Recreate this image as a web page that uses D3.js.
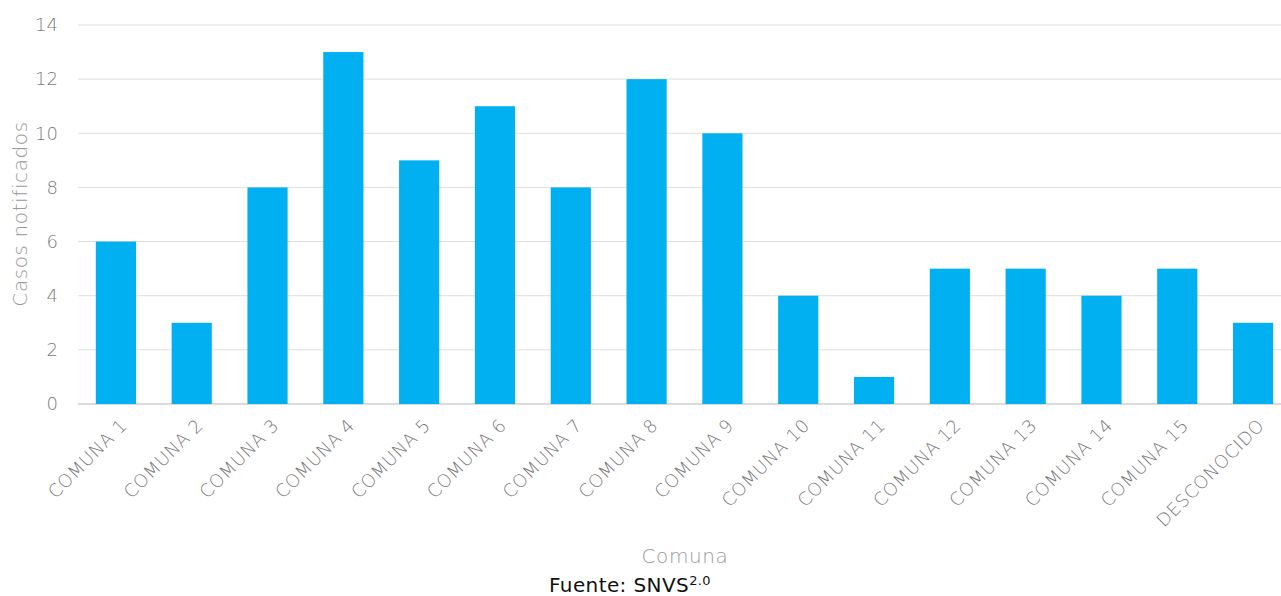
<!DOCTYPE html>
<html>
<head>
<meta charset="utf-8">
<script src="https://cdn.jsdelivr.net/npm/d3@7"></script>
<style>
  body { margin: 0; background: #fff; }
  text { font-family: "DejaVu Sans", sans-serif; }
</style>
</head>
<body>
<div id="chart"></div>
<script>
const categories = ['COMUNA 1', 'COMUNA 2', 'COMUNA 3', 'COMUNA 4', 'COMUNA 5', 'COMUNA 6', 'COMUNA 7', 'COMUNA 8',
    'COMUNA 9', 'COMUNA 10', 'COMUNA 11', 'COMUNA 12', 'COMUNA 13', 'COMUNA 14', 'COMUNA 15', 'DESCONOCIDO'];
const casos = [6, 3, 8, 13, 9, 11, 8, 12, 10, 4, 1, 5, 5, 4, 5, 3];
const yTicks = [0, 2, 4, 6, 8, 10, 12, 14];

const width = 1281, height = 596;

const svg = d3.select('#chart')
    .append('svg')
    .attr('width', width)
    .attr('height', height);

const x = d3.scaleBand()
    .domain(categories)
    .range([78, 1291])
    .paddingInner(0.47)
    .paddingOuter(0.235);

const y = d3.scaleLinear()
    .domain([0, 14])
    .range([404, 25]);

// gridlines
svg.selectAll('line.grid')
    .data(yTicks)
    .enter()
    .append('line')
    .attr('class', 'grid')
    .attr('x1', 78)
    .attr('x2', 1281)
    .attr('y1', d => y(d))
    .attr('y2', d => y(d))
    .style('stroke', d => d === 0 ? '#cfcfcf' : '#dedede')
    .style('stroke-width', d => d === 0 ? 1.5 : 1);

// y tick labels
svg.selectAll('text.ytick')
    .data(yTicks)
    .enter()
    .append('text')
    .attr('class', 'ytick')
    .attr('x', 58)
    .attr('y', d => y(d))
    .attr('dy', '0.35em')
    .attr('text-anchor', 'end')
    .attr('font-size', '18px')
    .attr('font-weight', 200)
    .attr('fill', '#7a7a7a')
    .text(d => d);

// bars
svg.selectAll('rect.bar')
    .data(casos)
    .enter()
    .append('rect')
    .attr('class', 'bar')
    .attr('x', (d, i) => x(categories[i]))
    .attr('y', d => y(d))
    .attr('width', x.bandwidth())
    .attr('height', d => y(0) - y(d))
    .style('fill', '#00B0F0');

// x labels
svg.selectAll('text.xtick')
    .data(categories)
    .enter()
    .append('text')
    .attr('class', 'xtick')
    .attr('transform', d => `translate(${x(d) + x.bandwidth() / 2 + 8},${422}) rotate(-45)`)
    .attr('text-anchor', 'end')
    .attr('dy', '0.35em')
    .attr('font-size', '18px')
    .attr('letter-spacing', '0.6px')
    .attr('font-weight', 200)
    .attr('fill', '#7a7a7a')
    .text(d => d);

// axis titles
svg.append('text')
    .attr('transform', 'translate(27,214) rotate(-90)')
    .attr('text-anchor', 'middle')
    .attr('font-size', '20px')
    .attr('letter-spacing', '0.6px')
    .attr('font-weight', 200)
    .attr('fill', '#9a9a9a')
    .text('Casos notificados');

svg.append('text')
    .attr('x', 685)
    .attr('y', 563)
    .attr('text-anchor', 'middle')
    .attr('font-size', '20px')
    .attr('letter-spacing', '0.6px')
    .attr('font-weight', 200)
    .attr('fill', '#9a9a9a')
    .text('Comuna');

const fuente = svg.append('text')
    .attr('x', 549)
    .attr('y', 592)
    .attr('font-size', '20px')
    .attr('letter-spacing', '0.4px')
    .attr('fill', '#111');
fuente.append('tspan').text('Fuente: SNVS');
fuente.append('tspan')
    .attr('font-size', '13px')
    .attr('dy', '-7')
    .text('2.0');
</script>
</body>
</html>
